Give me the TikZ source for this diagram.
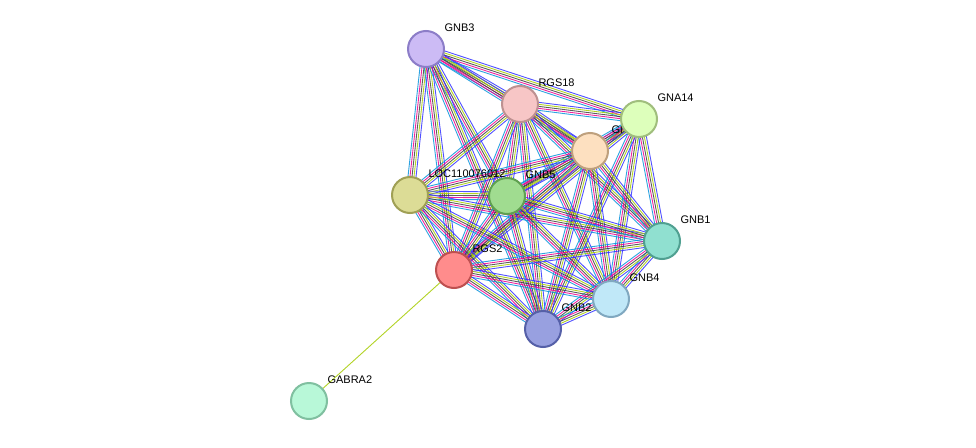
\documentclass[tikz,border=0pt]{standalone}
\usepackage{fontspec}
\setmainfont{Liberation Sans}
\usetikzlibrary{calc}
\newcommand\bund[2]{%
  \foreach \o/\c in {-4pt/cyan!80!blue, -2pt/magenta, 0pt/black!75, 2pt/lime!60!olive, 4pt/blue!80}{%
    \draw[edge,\c] ($(#1)!\o!90:(#2)$) -- ($(#2)!\o!-90:(#1)$);}}
\begin{document}
\begin{tikzpicture}[x=1pt,y=-1pt,
  edge/.style={line width=0.9pt,opacity=0.85},
  prot/.style={circle,minimum size=36pt,line width=2pt,inner sep=0pt},
  lab/.style={font=\fontsize{11}{13}\selectfont,anchor=west}]
\useasboundingbox (0,0) rectangle (976,447);
\fill[white] (0,0) rectangle (976,447);
\coordinate (B3) at (426,49);
\coordinate (R18) at (520,104);
\coordinate (A14) at (639,119);
\coordinate (GN) at (590,151);
\coordinate (LOC) at (410,195);
\coordinate (B5) at (507,196);
\coordinate (B1) at (662,241);
\coordinate (R2) at (454,270);
\coordinate (B4) at (611,299);
\coordinate (B2) at (543,329);
\coordinate (GA) at (309,401);
\foreach \a/\b in {B3/R18,B3/A14,B3/GN,B3/LOC,B3/B5,B3/R2,B3/B2,
 R18/A14,R18/GN,R18/LOC,R18/B5,R18/B1,R18/R2,R18/B4,R18/B2,
 A14/GN,A14/B5,A14/B1,A14/B4,A14/B2,A14/R2,
 GN/LOC,GN/B5,GN/B1,GN/R2,GN/B4,GN/B2,
 LOC/B5,LOC/B1,LOC/R2,LOC/B4,LOC/B2,
 B5/B1,B5/R2,B5/B4,B5/B2,
 B1/R2,B1/B4,B1/B2,R2/B4,R2/B2,B4/B2}{\bund{\a}{\b}}
\draw[edge,lime!60!olive] (R2) -- (GA);
\node[lab] (tGN) at (608,130) {GN};
\node[prot,fill={rgb,255:red,204;green,187;blue,245},draw={rgb,255:red,140;green,125;blue,200}] (nB3) at (B3) {};
\node[prot,fill={rgb,255:red,247;green,198;blue,198},draw={rgb,255:red,190;green,145;blue,145}] (nR18) at (R18) {};
\node[prot,fill={rgb,255:red,221;green,255;blue,187},draw={rgb,255:red,160;green,190;blue,125}] (nA14) at (A14) {};
\node[prot,fill={rgb,255:red,253;green,224;blue,192},draw={rgb,255:red,190;green,160;blue,125}] (nGN) at (GN) {};
\node[prot,fill={rgb,255:red,220;green,220;blue,150},draw={rgb,255:red,160;green,160;blue,85}] (nLOC) at (LOC) {};
\node[prot,fill={rgb,255:red,160;green,220;blue,144},draw={rgb,255:red,95;green,160;blue,80}] (nB5) at (B5) {};
\node[prot,fill={rgb,255:red,144;green,224;blue,208},draw={rgb,255:red,80;green,160;blue,145}] (nB1) at (B1) {};
\node[prot,fill={rgb,255:red,255;green,140;blue,140},draw={rgb,255:red,190;green,80;blue,80}] (nR2) at (R2) {};
\node[prot,fill={rgb,255:red,192;green,232;blue,248},draw={rgb,255:red,128;green,168;blue,192}] (nB4) at (B4) {};
\node[prot,fill={rgb,255:red,152;green,160;blue,224},draw={rgb,255:red,85;green,96;blue,168}] (nB2) at (B2) {};
\node[prot,fill={rgb,255:red,184;green,248;blue,216},draw={rgb,255:red,128;green,192;blue,160}] (nGA) at (GA) {};
\node[lab] at (441,28) {GNB3};
\node[lab] at (535,83) {RGS18};
\node[lab] at (654,98) {GNA14};
\node[lab] at (425,174) {LOC110076012};
\node[lab] at (522,175) {GNB5};
\node[lab] at (677,220) {GNB1};
\node[lab] at (469,249) {RGS2};
\node[lab] at (626,278) {GNB4};
\node[lab] at (558,308) {GNB2};
\node[lab] at (324,380) {GABRA2};
\end{tikzpicture}
\end{document}
